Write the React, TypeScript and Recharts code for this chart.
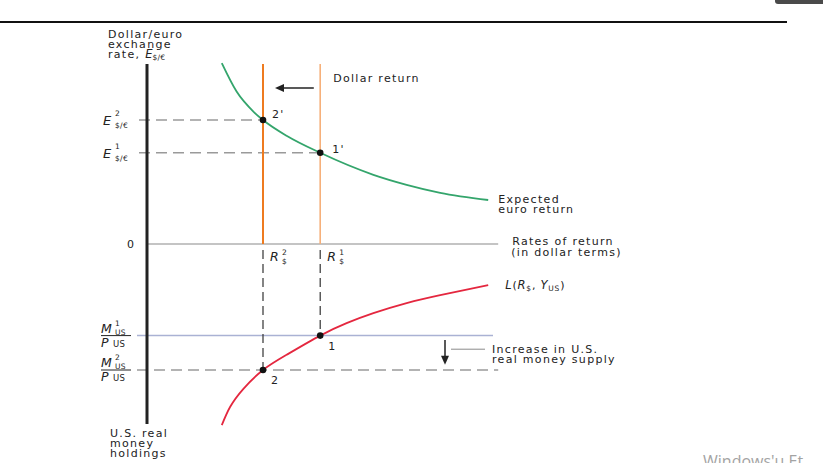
import React from "react"
import { ComposedChart, Line, XAxis, YAxis, ReferenceLine, ReferenceDot } from "recharts"

const W = 823
const H = 463

// equilibrium levels, chart units (x = rate of return, y = exchange rate above 0, money holdings below 0)
const dollarReturns = [4.33, 2.9] // R$¹, R$²
const exchangeRates = [2.28, 3.1] // E¹, E²
const realMoneySupply = [2.29, 3.15] // M¹/P, M²/P (drawn downwards)

// expected euro return curve
const euroReturnX = [1.87, 2.24, 2.66, 2.9, 3.5, 4.33, 5.66, 6.49, 7.33, 8.53]
const euroReturnY = [4.52, 3.81, 3.31, 3.1, 2.7, 2.28, 1.73, 1.48, 1.28, 1.1]

// real money demand L(R$, Y_US)
const moneyDemandX = [1.87, 2.08, 2.41, 2.9, 3.49, 4.33, 4.99, 5.66, 6.49, 7.33, 8.53]
const moneyDemandY = [4.53, 4.07, 3.62, 3.15, 2.77, 2.29, 1.98, 1.73, 1.48, 1.28, 1.03]

const axisTop = 4.5
const axisBottom = -4.5
const returnAxisEnd = 8.78
const supplyLineEnd = 8.65
const arrowShift = [4.17, 3.2, 3.9] // from x, to x, at y
const arrowDown = [7.45, -2.4, -3.02] // at x, from y, to y

const euroReturn = euroReturnX.map((x, i) => ({ x, y: euroReturnY[i] }))
const moneyDemand = moneyDemandX.map((x, i) => ({ x, y: -moneyDemandY[i] }))

const FONT = "'DejaVu Sans', 'Liberation Sans', sans-serif"
const INK = "#222"
const T = { fontFamily: FONT, fontSize: 11, letterSpacing: 1.3, fill: INK }
const I = { fontFamily: FONT, fontStyle: "italic" as const, fontSize: 12.5, fill: INK }
const S = { fontFamily: FONT, fontSize: 7.5, letterSpacing: 0.3, fill: INK }

const at = (key: string, x: number, y: number, draw: (cx: number, cy: number) => React.ReactNode) => (
  <ReferenceDot
    key={key}
    x={x}
    y={y}
    r={1}
    ifOverflow="visible"
    isFront
    shape={(p: any) => <g>{draw(p.cx, p.cy)}</g>}
  />
)

const sup = ["1", "2"]

export default function App() {
  const [R1, R2] = dollarReturns
  const [E1, E2] = exchangeRates
  const [M1, M2] = realMoneySupply

  return (
    <div style={{ position: "absolute", left: 0, top: 0, width: W, height: H, overflow: "hidden", background: "#fff" }}>
      <ComposedChart width={W} height={H} margin={{ top: 44, right: 276, bottom: 19, left: 107 }}>
        <XAxis type="number" dataKey="x" domain={[-1, 10]} allowDataOverflow hide />
        <YAxis type="number" dataKey="y" domain={[-5, 5]} allowDataOverflow hide />

        {/* guides to the exchange rate axis */}
        <ReferenceLine segment={[{ x: -0.2, y: E2 }, { x: R2, y: E2 }]} stroke="#9a9a9a" strokeWidth={1.5} strokeDasharray="11 6" />
        <ReferenceLine segment={[{ x: -0.2, y: E1 }, { x: R1, y: E1 }]} stroke="#9a9a9a" strokeWidth={1.5} strokeDasharray="11 6" />
        <ReferenceLine segment={[{ x: -0.25, y: -M2 }, { x: returnAxisEnd, y: -M2 }]} stroke="#9a9a9a" strokeWidth={1.5} strokeDasharray="11 6" />
        <ReferenceLine segment={[{ x: -0.25, y: -M1 }, { x: supplyLineEnd, y: -M1 }]} stroke="#aab2d4" strokeWidth={1.5} />

        {/* rates of return axis */}
        <ReferenceLine segment={[{ x: 0, y: 0 }, { x: returnAxisEnd, y: 0 }]} stroke="#8a8a8a" strokeWidth={1.2} />

        {/* dollar returns */}
        <ReferenceLine segment={[{ x: R2, y: 0 }, { x: R2, y: axisTop }]} stroke="#ee7b20" strokeWidth={2} />
        <ReferenceLine segment={[{ x: R1, y: 0 }, { x: R1, y: axisTop }]} stroke="#f6b07a" strokeWidth={1.6} />
        <ReferenceLine segment={[{ x: R2, y: -0.15 }, { x: R2, y: -M2 }]} stroke="#333" strokeWidth={1.2} strokeDasharray="9 5" />
        <ReferenceLine segment={[{ x: R1, y: -0.15 }, { x: R1, y: -M1 }]} stroke="#333" strokeWidth={1.2} strokeDasharray="9 5" />

        {/* vertical axis */}
        <ReferenceLine segment={[{ x: 0, y: axisBottom }, { x: 0, y: axisTop }]} stroke="#222" strokeWidth={3} />

        {/* arrows */}
        <ReferenceLine segment={[{ x: arrowShift[0], y: arrowShift[2] }, { x: arrowShift[1] + 0.15, y: arrowShift[2] }]} stroke="#222" strokeWidth={1.5} />
        <ReferenceLine segment={[{ x: arrowDown[0], y: arrowDown[1] }, { x: arrowDown[0], y: arrowDown[2] + 0.15 }]} stroke="#222" strokeWidth={1.5} />
        <ReferenceLine segment={[{ x: arrowDown[0] + 0.15, y: -2.63 }, { x: 8.45, y: -2.63 }]} stroke="#8a8a8a" strokeWidth={1} />

        <Line data={euroReturn} dataKey="y" type="monotone" stroke="#34a56c" strokeWidth={1.8} dot={false} activeDot={false} isAnimationActive={false} />
        <Line data={moneyDemand} dataKey="y" type="natural" stroke="#e4273f" strokeWidth={1.8} dot={false} activeDot={false} isAnimationActive={false} />

        <ReferenceDot x={R2} y={E2} r={3.3} fill="#111" stroke="none" isFront />
        <ReferenceDot x={R1} y={E1} r={3.3} fill="#111" stroke="none" isFront />
        <ReferenceDot x={R1} y={-M1} r={3.3} fill="#111" stroke="none" isFront />
        <ReferenceDot x={R2} y={-M2} r={3.3} fill="#111" stroke="none" isFront />

        {at("arrowL", arrowShift[1], arrowShift[2], (cx, cy) => (
          <polygon points={`${cx},${cy} ${cx + 9},${cy - 4} ${cx + 9},${cy + 4}`} fill="#222" />
        ))}
        {at("arrowD", arrowDown[0], arrowDown[2], (cx, cy) => (
          <polygon points={`${cx},${cy} ${cx - 4},${cy - 9} ${cx + 4},${cy - 9}`} fill="#222" />
        ))}

        {at("titleTop", 0, axisTop, (cx, cy) => (
          <>
            <text {...T} x={cx - 39} y={cy - 26}>Dollar/euro</text>
            <text {...T} x={cx - 39} y={cy - 16}>exchange</text>
            <text {...T} x={cx - 39} y={cy - 6}>
              rate, <tspan {...I} fontSize={11.5} letterSpacing={0}>E</tspan>
              <tspan fontSize={7.5} letterSpacing={0.3} dy={2}>$/€</tspan>
            </text>
          </>
        ))}
        {at("titleBottom", 0, axisBottom, (cx, cy) => (
          <>
            <text {...T} x={cx - 37} y={cy + 13}>U.S. real</text>
            <text {...T} x={cx - 37} y={cy + 23}>money</text>
            <text {...T} x={cx - 37} y={cy + 33}>holdings</text>
          </>
        ))}
        {at("zero", 0, 0, (cx, cy) => (
          <text {...T} x={cx - 20} y={cy + 4}>0</text>
        ))}

        {exchangeRates.map((e, i) =>
          at(`E${i}`, 0, e, (cx, cy) => (
            <>
              <text {...I} fontSize={13} x={cx - 44} y={cy + 5}>E</text>
              <text {...S} x={cx - 32} y={cy - 4}>{sup[i]}</text>
              <text {...S} x={cx - 32} y={cy + 8}>$/€</text>
            </>
          ))
        )}
        {dollarReturns.map((r, i) =>
          at(`R${i}`, r, 0, (cx, cy) => (
            <>
              <text {...I} x={cx + 7} y={cy + 17}>R</text>
              <text {...S} x={cx + 19} y={cy + 11}>{sup[i]}</text>
              <text {...S} x={cx + 19} y={cy + 20}>$</text>
            </>
          ))
        )}
        {realMoneySupply.map((m, i) =>
          at(`M${i}`, 0, -m, (cx, cy) => (
            <>
              <text {...I} x={cx - 46} y={cy - 3}>M</text>
              <text {...S} x={cx - 32} y={cy - 10}>{sup[i]}</text>
              <text {...S} x={cx - 32} y={cy - 1}>US</text>
              <line x1={cx - 46} x2={cx - 16} y1={cy} y2={cy} stroke={INK} strokeWidth={1} />
              <text {...I} x={cx - 46} y={cy + 11}>P</text>
              <text {...S} fontSize={8.5} x={cx - 34} y={cy + 11}>US</text>
            </>
          ))
        )}

        {at("p2prime", R2, E2, (cx, cy) => <text {...T} x={cx + 9} y={cy - 2}>2'</text>)}
        {at("p1prime", R1, E1, (cx, cy) => <text {...T} x={cx + 12} y={cy}>1'</text>)}
        {at("p1", R1, -M1, (cx, cy) => <text {...T} x={cx + 8} y={cy + 14}>1</text>)}
        {at("p2", R2, -M2, (cx, cy) => <text {...T} x={cx + 8} y={cy + 14}>2</text>)}

        {at("dollarReturn", R1, axisTop, (cx, cy) => (
          <text {...T} x={cx + 13} y={cy + 18}>Dollar return</text>
        ))}
        {at("euroReturn", euroReturnX[euroReturnX.length - 1], euroReturnY[euroReturnY.length - 1], (cx, cy) => (
          <>
            <text {...T} x={cx + 10} y={cy + 3}>Expected</text>
            <text {...T} x={cx + 10} y={cy + 13}>euro return</text>
          </>
        ))}
        {at("rates", returnAxisEnd, 0, (cx, cy) => (
          <>
            <text {...T} x={cx + 14} y={cy + 1}>Rates of return</text>
            <text {...T} x={cx + 13} y={cy + 12}>(in dollar terms)</text>
          </>
        ))}
        {at("moneyDemand", moneyDemandX[moneyDemandX.length - 1], -moneyDemandY[moneyDemandY.length - 1], (cx, cy) => (
          <text {...T} letterSpacing={0.8} x={cx + 17} y={cy + 4}>
            <tspan {...I} fontSize={11.5}>L</tspan>(<tspan {...I} fontSize={11.5}>R</tspan>
            <tspan fontSize={7.5} dy={2}>$</tspan>
            <tspan dy={-2}>, </tspan>
            <tspan {...I} fontSize={11.5}>Y</tspan>
            <tspan fontSize={7.5} dy={2}>US</tspan>
            <tspan dy={-2}>)</tspan>
          </text>
        ))}
        {at("increase", 8.45, -2.63, (cx, cy) => (
          <>
            <text {...T} x={cx + 7} y={cy + 4}>Increase in U.S.</text>
            <text {...T} x={cx + 7} y={cy + 14}>real money supply</text>
          </>
        ))}
      </ComposedChart>

      <div style={{ position: "absolute", left: 0, top: 21, width: 787, height: 2, background: "#111" }} />
      <div style={{ position: "absolute", left: 775, top: 0, width: 48, height: 4, background: "#4a4a4a", borderBottomLeftRadius: 3 }} />
      <div
        style={{
          position: "absolute",
          left: 703,
          top: 453,
          fontFamily: "'Open Sans', sans-serif",
          fontSize: 16,
          lineHeight: "16px",
          color: "#a3a3a3",
          whiteSpace: "nowrap",
        }}
      >
        Windows'u Et
      </div>
    </div>
  )
}
